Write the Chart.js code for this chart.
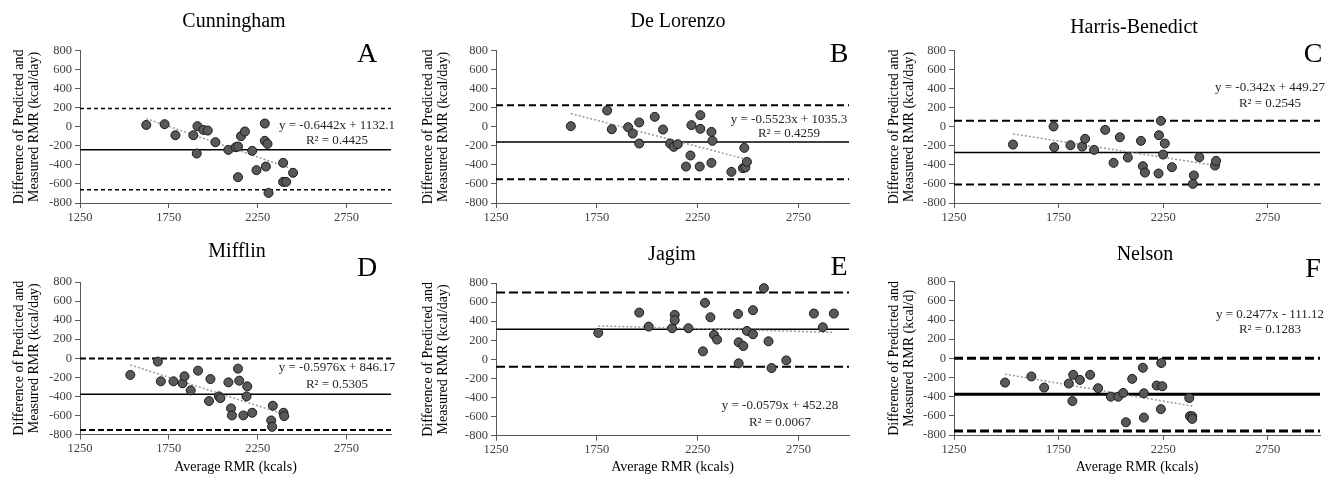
<!DOCTYPE html>
<html>
<head>
<meta charset="utf-8">
<script src="https://cdn.jsdelivr.net/npm/chart.js@4.4.1/dist/chart.umd.min.js"></script>
<style>
  body { margin: 0; background: #fff; }
  #wrap { position: relative; width: 1337px; height: 482px; overflow: hidden; }
  #wrap canvas { position: absolute; }
</style>
</head>
<body>
<div id="wrap"></div>
<script>
// panel names, letters and y axis titles
const panelTitles = ['Cunningham', 'De Lorenzo', 'Harris-Benedict', 'Mifflin', 'Jagim', 'Nelson'];
const panelLetters = ['A', 'B', 'C', 'D', 'E', 'F'];
const yUnits = ['(kcal/day)', '(kcal/day)', '(kcal/day)', '(kcal/day)', '(kcal/day)', '(kcal/d)'];
const xTicks = [1250, 1750, 2250, 2750];
const xMin = 1250, xMax = 3000;
const yMin = -800, yMax = 800, yStep = 200;

// average RMR (x) and difference (y) per panel
const xCunningham = [1623, 1726, 1787, 1888, 1911, 1907, 1944, 1969, 2012, 2085, 2126, 2139, 2156, 2178, 2139, 2219, 2243, 2290, 2290, 2305, 2296, 2311, 2393, 2393, 2410, 2449];
const yCunningham = [20, 28, -88, -88, 7, -280, -32, -39, -161, -242, -214, -207, -98, -49, -529, -252, -455, 35, -147, -179, -417, -694, -378, -578, -578, -483];
const xDeLorenzo = [1621, 1801, 1824, 1905, 1928, 1960, 1960, 2037, 2078, 2113, 2131, 2151, 2192, 2214, 2219, 2260, 2263, 2263, 2318, 2323, 2318, 2417, 2474, 2486, 2481, 2494];
const yDeLorenzo = [7, 172, -25, -4, -70, 46, -175, 105, -28, -175, -210, -182, -417, -301, 18, -417, 123, -21, -53, -147, -378, -473, -434, -427, -221, -368];
const xHarris = [1532, 1726, 1729, 1807, 1863, 1877, 1920, 1973, 2013, 2043, 2081, 2144, 2153, 2163, 2228, 2230, 2239, 2250, 2258, 2292, 2397, 2392, 2423, 2498, 2503];
const yHarris = [-186, 4, -214, -193, -207, -126, -242, -32, -378, -109, -322, -147, -413, -480, -490, -88, 63, -291, -175, -424, -511, -599, -319, -406, -357];
const xMifflin = [1533, 1688, 1705, 1776, 1827, 1838, 1873, 1914, 1976, 1984, 2032, 2040, 2085, 2100, 2105, 2139, 2146, 2169, 2191, 2187, 2219, 2326, 2331, 2335, 2395, 2399];
const yMifflin = [-175, -35, -242, -242, -263, -189, -337, -130, -449, -218, -400, -418, -253, -526, -600, -109, -235, -600, -295, -400, -572, -653, -719, -498, -572, -607];
const xJagim = [1757, 1960, 2007, 2123, 2136, 2136, 2204, 2276, 2286, 2313, 2331, 2346, 2450, 2453, 2453, 2476, 2494, 2524, 2524, 2578, 2601, 2616, 2689, 2826, 2870, 2925];
const yJagim = [277, 490, 343, 326, 466, 410, 326, 84, 592, 441, 256, 207, 476, 179, -42, 140, 298, 515, 263, 746, 189, -91, -11, 480, 336, 480];
const xNelson = [1494, 1620, 1681, 1799, 1820, 1816, 1852, 1901, 1939, 2000, 2035, 2059, 2072, 2102, 2153, 2158, 2158, 2219, 2239, 2241, 2246, 2375, 2378, 2389, 2389];
const yNelson = [-253, -189, -305, -263, -172, -446, -225, -172, -312, -400, -400, -361, -667, -214, -98, -365, -618, -284, -530, -49, -291, -414, -604, -604, -632];

// bias and limits of agreement
const meanBias = [-240, -158, -270, -379, 315, -375];
const upperLoA = [194, 228, 63, -2, 700, 0];
const lowerLoA = [-660, -550, -606, -754, -77, -758];

// trend lines and their labels
const trendSlope = [-0.6442, -0.5523, -0.342, -0.5976, -0.0579, -0.372];
const trendIntercept = [1132.1, 1035.3, 449.27, 846.17, 452.28, 391];
const eqText = ['y = -0.6442x + 1132.1', 'y = -0.5523x + 1035.3', 'y = -0.342x + 449.27', 'y = -0.5976x + 846.17', 'y = -0.0579x + 452.28', 'y = 0.2477x - 111.12'];
const r2Text = ['R\u00b2 = 0.4425', 'R\u00b2 = 0.4259', 'R\u00b2 = 0.2545', 'R\u00b2 = 0.5305', 'R\u00b2 = 0.0067', 'R\u00b2 = 0.1283'];

const xSeries = [xCunningham, xDeLorenzo, xHarris, xMifflin, xJagim, xNelson];
const ySeries = [yCunningham, yDeLorenzo, yHarris, yMifflin, yJagim, yNelson];

// layout of each panel on the page
const boxes = [
  { left: 0,   top: 0,   w: 415, h: 235, yW: 80, padR: 24, padT: 50.7, xH: 32,   yTitlePad: 11.3, title: [234, 22], letter: [367, 62], eq: [337, 126, 141], dash: [4, 3], dashW: 1.5, meanW: 1.5 },
  { left: 415, top: 0,   w: 465, h: 235, yW: 81, padR: 31, padT: 50.7, xH: 32,   yTitlePad: 5.3,  title: [263, 22], letter: [424, 62], eq: [374, 120, 134], dash: [7, 4], dashW: 2, meanW: 1.5 },
  { left: 880, top: 0,   w: 457, h: 235, yW: 74, padR: 17, padT: 50.7, xH: 32,   yTitlePad: 6.3,  title: [254, 28], letter: [433, 62], eq: [390, 88, 104],  dash: [8, 4], dashW: 2, meanW: 1.5 },
  { left: 0,   top: 235, w: 415, h: 247, yW: 80, padR: 24, padT: 47,   xH: 47.5, yTitlePad: 11.3, title: [237, 17], letter: [367, 41], eq: [337, 133, 150], dash: [6, 3], dashW: 2, meanW: 1.5 },
  { left: 415, top: 235, w: 465, h: 247, yW: 81, padR: 31, padT: 48,   xH: 46.3, yTitlePad: 5.3,  title: [257, 20], letter: [424, 40], eq: [365, 171, 188], dash: [9, 4], dashW: 2, meanW: 1.5 },
  { left: 880, top: 235, w: 457, h: 247, yW: 74, padR: 17, padT: 46.7, xH: 47,   yTitlePad: 6.3,  title: [265, 20], letter: [433, 42], eq: [390, 80, 95],   dash: [9, 4], dashW: 3, meanW: 3 }
];

const serif = "'Liberation Serif', 'Times New Roman', serif";

const panelText = {
  id: 'panelText',
  afterDraw(chart, args, opts) {
    const ctx = chart.ctx;
    const b = opts.box;
    ctx.save();
    ctx.fillStyle = '#000';
    ctx.textAlign = 'center';
    ctx.textBaseline = 'middle';
    ctx.font = '20px ' + serif;
    ctx.fillText(opts.title, b.title[0], b.title[1]);
    ctx.font = '13px ' + serif;
    ctx.fillStyle = '#262626';
    ctx.fillText(opts.eq, b.eq[0], b.eq[1]);
    ctx.fillText(opts.r2, b.eq[0], b.eq[2]);
    ctx.fillStyle = '#000';
    ctx.textBaseline = 'alphabetic';
    ctx.font = '28px ' + serif;
    ctx.fillText(opts.letter, b.letter[0], b.letter[1]);
    ctx.restore();
  }
};

const wrap = document.getElementById('wrap');

boxes.forEach((b, i) => {
  const canvas = document.createElement('canvas');
  canvas.width = b.w;
  canvas.height = b.h;
  canvas.style.left = b.left + 'px';
  canvas.style.top = b.top + 'px';
  canvas.style.width = b.w + 'px';
  canvas.style.height = b.h + 'px';
  wrap.appendChild(canvas);

  const xs = xSeries[i], ys = ySeries[i];
  const pts = xs.map((x, k) => ({ x: x, y: ys[k] }));
  const lo = Math.min(...xs), hi = Math.max(...xs);
  const trend = [lo, hi].map(x => ({ x: x, y: trendSlope[i] * x + trendIntercept[i] }));
  const hline = v => [{ x: xMin, y: v }, { x: xMax, y: v }];
  const bottomRow = i >= 3;

  new Chart(canvas, {
    type: 'scatter',
    data: {
      datasets: [
        { data: pts, pointRadius: 4.5, pointBackgroundColor: '#595959', pointBorderColor: '#1a1a1a', pointBorderWidth: 1, showLine: false },
        { type: 'line', data: trend, borderColor: '#9a9a9a', borderWidth: 1.5, borderDash: [2, 2], pointRadius: 0, fill: false },
        { type: 'line', data: hline(meanBias[i]), borderColor: '#000', borderWidth: b.meanW, pointRadius: 0, fill: false },
        { type: 'line', data: hline(upperLoA[i]), borderColor: '#000', borderWidth: b.dashW, borderDash: b.dash, pointRadius: 0, fill: false },
        { type: 'line', data: hline(lowerLoA[i]), borderColor: '#000', borderWidth: b.dashW, borderDash: b.dash, pointRadius: 0, fill: false }
      ]
    },
    options: {
      responsive: false,
      animation: false,
      devicePixelRatio: 1,
      layout: { padding: { left: 0, top: b.padT, right: b.padR, bottom: 0 } },
      plugins: {
        legend: { display: false },
        tooltip: { enabled: false },
        panelText: { box: b, title: panelTitles[i], letter: panelLetters[i], eq: eqText[i], r2: r2Text[i] }
      },
      scales: {
        x: {
          type: 'linear',
          min: xMin,
          max: xMax,
          afterBuildTicks: s => { s.ticks = xTicks.map(v => ({ value: v })); },
          afterFit: s => { s.height = b.xH; },
          grid: { drawOnChartArea: false, drawTicks: true, tickLength: 5, color: '#595959' },
          border: { color: '#595959', width: 1 },
          ticks: { font: { family: serif, size: 12.5 }, color: '#404040', padding: 2, maxRotation: 0, callback: v => String(v) },
          title: {
            display: bottomRow,
            text: 'Average RMR (kcals)',
            font: { family: serif, size: 14 },
            color: '#000',
            padding: { top: 0, bottom: 6.6 }
          }
        },
        y: {
          min: yMin,
          max: yMax,
          afterFit: s => { s.width = b.yW; },
          grid: { drawOnChartArea: false, drawTicks: true, tickLength: 5, color: '#595959' },
          border: { color: '#595959', width: 1 },
          ticks: { stepSize: yStep, font: { family: serif, size: 12.5 }, color: '#404040', padding: 3, callback: v => String(v) },
          title: {
            display: true,
            text: ['Difference of Predicted and', 'Measured RMR ' + yUnits[i]],
            font: { family: serif, size: 14, lineHeight: 1.1 },
            color: '#000',
            padding: { top: b.yTitlePad, bottom: 0 }
          }
        }
      }
    },
    plugins: [panelText]
  });
});
</script>
</body>
</html>
